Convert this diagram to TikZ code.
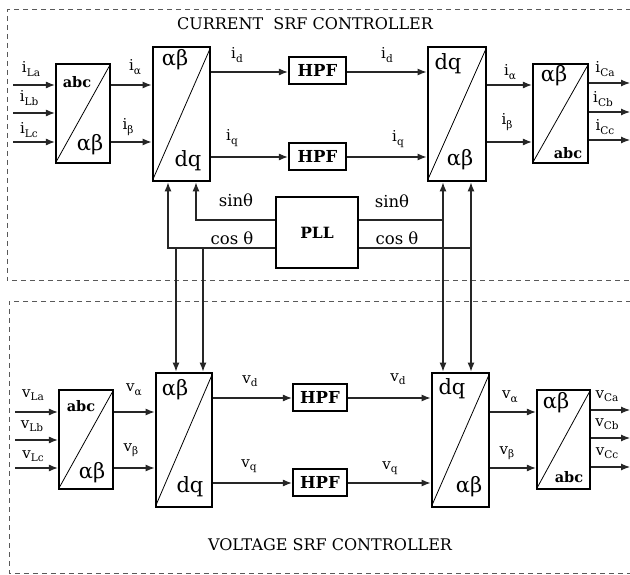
\documentclass[tikz,border=0pt]{standalone}
\usepackage{fontspec}
\setmainfont{DejaVu Serif}
\usetikzlibrary{arrows.meta}
\newcommand{\sbs}[1]{\raisebox{-0.45ex}{\fontsize{10.5}{10.5}\selectfont #1}}
\begin{document}
\begin{tikzpicture}[x=1pt,y=-1pt,
  conn/.style={line width=1.1pt, draw=black!85},
  arr/.style={conn,-{Latex[length=9pt,width=7pt]}},
  smallblk/.style={draw, line width=2.2pt, minimum width=54pt, minimum height=99pt, inner sep=0pt},
  bigblk/.style={draw, line width=2.8pt, minimum width=57pt, minimum height=134pt, inner sep=0pt},
  filt/.style={draw, line width=2.2pt, minimum width=57pt, minimum height=27pt, inner sep=0pt, font=\fontsize{16.5}{16.5}\selectfont\bfseries},
  pllbox/.style={draw, line width=2.2pt, minimum width=82pt, minimum height=71pt, inner sep=0pt, font=\fontsize{15.5}{15.5}\selectfont\bfseries},
  frame/.style={draw=black!65, line width=1pt, dash pattern=on 5pt off 4pt},
  lab/.style={font=\fontsize{15}{15}\selectfont, inner sep=0pt},
  big/.style={font=\fontsize{21}{21}\selectfont, inner sep=0pt},
  abcf/.style={font=\fontsize{14.5}{14.5}\selectfont\bfseries, inner sep=0pt},
  diag/.style={line width=0.8pt, shorten <=2pt, shorten >=2pt},
  title/.style={font=\fontsize{16}{16}\selectfont, inner sep=0pt}
]
\useasboundingbox (0,0) rectangle (630,575);
\clip (0,0) rectangle (630,575);

% frames
\draw[frame] (640,10) -- (7,10) -- (7,281) -- (640,281);
\draw[frame] (640,301) -- (9,301) -- (9,573) -- (640,573);
\node[title] (t1) at (305,24) {CURRENT\ \ SRF CONTROLLER};
\node[title] (t2) at (330,545) {VOLTAGE SRF CONTROLLER};

% ===== current controller blocks =====
\node[smallblk] (b1) at (83,113.5) {};
\node[bigblk] (b2) at (181.5,114) {};
\node[filt] (h1) at (317.5,70.5) {HPF};
\node[filt] (h2) at (317.5,156.5) {HPF};
\node[bigblk, minimum width=58pt] (b3) at (457,114) {};
\node[smallblk, minimum width=55pt] (b4) at (560.5,113.5) {};
\node[pllbox] (pll) at (317,232.5) {PLL};

\draw[diag] (b1.south west) -- (b1.north east);
\draw[diag] (b2.south west) -- (b2.north east);
\draw[diag] (b3.south west) -- (b3.north east);
\draw[diag] (b4.south west) -- (b4.north east);

\node[abcf] (b1t) at (77,82) {abc};
\node[big] (b1b) at (90,145) {αβ};
\node[big] (b2t) at (175,60) {αβ};
\node[big] (b2b) at (188,161) {dq};
\node[big] (b3t) at (448,64) {dq};
\node[big] (b3b) at (460,160) {αβ};
\node[big] (b4t) at (554,76) {αβ};
\node[abcf] (b4b) at (568,153) {abc};

% ===== voltage controller blocks =====
\node[smallblk] (b5) at (86,439.5) {};
\node[bigblk, minimum width=56pt] (b6) at (184,440) {};
\node[filt, minimum width=54pt] (h3) at (320,397.5) {HPF};
\node[filt, minimum width=54pt] (h4) at (320,482.5) {HPF};
\node[bigblk] (b7) at (460.5,440) {};
\node[smallblk, minimum width=53pt] (b8) at (563.5,439.5) {};

\draw[diag] (b5.south west) -- (b5.north east);
\draw[diag] (b6.south west) -- (b6.north east);
\draw[diag] (b7.south west) -- (b7.north east);
\draw[diag] (b8.south west) -- (b8.north east);

\node[abcf] (b5t) at (81,406) {abc};
\node[big] (b5b) at (92,473) {αβ};
\node[big] (b6t) at (175,390) {αβ};
\node[big] (b6b) at (190,487) {dq};
\node[big] (b7t) at (452,389) {dq};
\node[big] (b7b) at (469,487) {αβ};
\node[big] (b8t) at (556,403) {αβ};
\node[abcf] (b8b) at (569,477) {abc};

% ===== current connectors =====
\coordinate (ia) at (13,85);
\coordinate (ib) at (13,113);
\coordinate (ic) at (13,142);
\draw[arr] (ia) -- (ia -| b1.west);
\draw[arr] (ib) -- (ib -| b1.west);
\draw[arr] (ic) -- (ic -| b1.west);
\draw[arr] (b1.east |- 0,85) -- (b2.west |- 0,85);
\draw[arr] (b1.east |- 0,142) -- (b2.west |- 0,142);
\draw[arr] (b2.east |- 0,72) -- (h1.west |- 0,72);
\draw[arr] (b2.east |- 0,157) -- (h2.west |- 0,157);
\draw[arr] (h1.east |- 0,72) -- (b3.west |- 0,72);
\draw[arr] (h2.east |- 0,157) -- (b3.west |- 0,157);
\draw[arr] (b3.east |- 0,85) -- (b4.west |- 0,85);
\draw[arr] (b3.east |- 0,142) -- (b4.west |- 0,142);
\coordinate (oa) at (630,83);
\coordinate (ob) at (630,112);
\coordinate (oc) at (630,140);
\draw[arr] (oa -| b4.east) -- (oa);
\draw[arr] (ob -| b4.east) -- (ob);
\draw[arr] (oc -| b4.east) -- (oc);

% PLL connectors
\draw[arr] (pll.west |- 0,220) -| (b2.south -| 196,0);
\draw[arr] (pll.west |- 0,248) -| (b2.south -| 168,0);
\draw[arr] (pll.east |- 0,220) -| (b3.south -| 443,0);
\draw[arr] (pll.east |- 0,248) -| (b3.south -| 471,0);
\coordinate (jl1) at (176,248);
\coordinate (jl2) at (203,248);
\coordinate (jr1) at (443,220);
\coordinate (jr2) at (471,248);
\draw[arr] (jl1) -- (b6.north -| jl1);
\draw[arr] (jl2) -- (b6.north -| jl2);
\draw[arr] (jr1) -- (b7.north -| jr1);
\draw[arr] (jr2) -- (b7.north -| jr2);

% ===== voltage connectors =====
\coordinate (va) at (15,412);
\coordinate (vb) at (15,440);
\coordinate (vc) at (15,468);
\draw[arr] (va) -- (va -| b5.west);
\draw[arr] (vb) -- (vb -| b5.west);
\draw[arr] (vc) -- (vc -| b5.west);
\draw[arr] (b5.east |- 0,412) -- (b6.west |- 0,412);
\draw[arr] (b5.east |- 0,468) -- (b6.west |- 0,468);
\draw[arr] (b6.east |- 0,398) -- (h3.west |- 0,398);
\draw[arr] (b6.east |- 0,483) -- (h4.west |- 0,483);
\draw[arr] (h3.east |- 0,398) -- (b7.west |- 0,398);
\draw[arr] (h4.east |- 0,483) -- (b7.west |- 0,483);
\draw[arr] (b7.east |- 0,412) -- (b8.west |- 0,412);
\draw[arr] (b7.east |- 0,468) -- (b8.west |- 0,468);
\coordinate (voa) at (630,410);
\coordinate (vob) at (630,438);
\coordinate (voc) at (630,467);
\draw[arr] (voa -| b8.east) -- (voa);
\draw[arr] (vob -| b8.east) -- (vob);
\draw[arr] (voc -| b8.east) -- (voc);

% ===== labels =====
\node[lab] (lLa) at (31,69) {i\sbs{La}};
\node[lab] (lLb) at (29,98) {i\sbs{Lb}};
\node[lab] (lLc) at (29,130) {i\sbs{Lc}};
\node[lab] (lal1) at (135,67) {i\sbs{α}};
\node[lab] (lbe1) at (128,127) {i\sbs{β}};
\node[lab] (ld1) at (237,55) {i\sbs{d}};
\node[lab] (lq1) at (232,138) {i\sbs{q}};
\node[lab] (ld2) at (387,55) {i\sbs{d}};
\node[lab] (lq2) at (398,139) {i\sbs{q}};
\node[lab] (lal2) at (510,72) {i\sbs{α}};
\node[lab] (lbe2) at (507,122) {i\sbs{β}};
\node[lab] (lCa) at (605,69) {i\sbs{Ca}};
\node[lab] (lCb) at (603,99) {i\sbs{Cb}};
\node[lab] (lCc) at (605,127) {i\sbs{Cc}};

\node[lab, font=\fontsize{16.5}{16.5}\selectfont] (s1) at (236,200) {sinθ};
\node[lab, font=\fontsize{16.5}{16.5}\selectfont] (c1) at (232,238) {cos θ};
\node[lab, font=\fontsize{16.5}{16.5}\selectfont] (s2) at (392,201) {sinθ};
\node[lab, font=\fontsize{16.5}{16.5}\selectfont] (c2) at (397,238) {cos θ};

\node[lab] (vLa) at (33,395) {v\sbs{La}};
\node[lab] (vLb) at (32,426) {v\sbs{Lb}};
\node[lab] (vLc) at (33,456) {v\sbs{Lc}};
\node[lab] (val1) at (134,390) {v\sbs{α}};
\node[lab] (vbe1) at (131,450) {v\sbs{β}};
\node[lab] (vd1) at (250,381) {v\sbs{d}};
\node[lab] (vq1) at (249,466) {v\sbs{q}};
\node[lab] (vd2) at (398,379) {v\sbs{d}};
\node[lab] (vq2) at (390,468) {v\sbs{q}};
\node[lab] (val2) at (510,397) {v\sbs{α}};
\node[lab] (vbe2) at (507,453) {v\sbs{β}};
\node[lab] (vCa) at (607,396) {v\sbs{Ca}};
\node[lab] (vCb) at (607,424) {v\sbs{Cb}};
\node[lab] (vCc) at (607,453) {v\sbs{Cc}};
\end{tikzpicture}
\end{document}
